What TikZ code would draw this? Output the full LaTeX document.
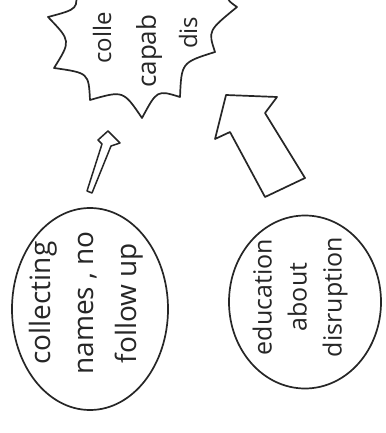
\documentclass[tikz,border=0pt]{standalone}
\usepackage{fontspec}
\newfontfamily\hand{Open Sans}
\usetikzlibrary{shapes.geometric}
\definecolor{ink}{HTML}{262626}
\begin{document}
\begin{tikzpicture}[x=1pt,y=-1pt, line join=round, line cap=round,
  inkline/.style={draw=ink, line width=1.7pt},
  handtext/.style={text=ink, font=\hand, rotate=90, inner sep=0pt, align=center},
  blob/.style={inkline, ellipse, inner sep=0pt}]
\useasboundingbox (0,0) rectangle (385,433);
\fill[white] (0,0) rectangle (385,433);

% starburst (cut off at the top)
\coordinate (p0) at (75,-12);
\coordinate (p1) at (48,17);
\coordinate (p2) at (54,68);
\coordinate (p3) at (90,100);
\coordinate (p4) at (142,118);
\coordinate (p5) at (180,97);
\coordinate (p6) at (215,52);
\coordinate (p7) at (237,7);
\coordinate (p8) at (228,-12);
\draw[inkline] (p0) .. controls (78.3,9.0) .. (p1)
  .. controls (71,40.9) .. (p2)
  .. controls (88.6,72.9) .. (p3)
  .. controls (123.3,90.4) .. (p4)
  .. controls (157.1,89.9) .. (p5)
  .. controls (181.5,62.5) .. (p6)
  .. controls (208,30.7) .. (p7)
  .. controls (227,0) .. (p8);
\node[handtext, font=\hand\fontsize{24}{28}\selectfont, anchor=west] (b1) at (102,64) {colle};
\node[handtext, font=\hand\fontsize{26}{28}\selectfont, anchor=west] (b2) at (149,88) {capab};
\node[handtext, font=\hand\fontsize{24}{28}\selectfont, anchor=west] (b3) at (188,49) {dis};

% left ellipse
\node[blob, minimum width=156pt, minimum height=202pt] (names) at (90,309) {};
\node[handtext, font=\hand\fontsize{28}{43}\selectfont] (namestext) at (86,303)
  {collecting\\names , no\\follow up};

% right ellipse
\node[blob, minimum width=152pt, minimum height=173pt] (edu) at (305,302) {};
\node[handtext, font=\hand\fontsize{25}{35}\selectfont] (edutext) at (300,297)
  {education\\about\\disruption};

% thin arrow from left ellipse to starburst
\draw[inkline, line width=1.5pt] (87,191) -- (102,144) -- (98,140) -- (108,131)
  -- (120,143) -- (111,146) -- (92,193) -- cycle;

% big arrow from right ellipse to starburst
\draw[inkline] (226,95) -- (277,97) -- (265,113) -- (305,178) -- (265,197)
  -- (230,132) -- (215,139) -- cycle;
\end{tikzpicture}
\end{document}
